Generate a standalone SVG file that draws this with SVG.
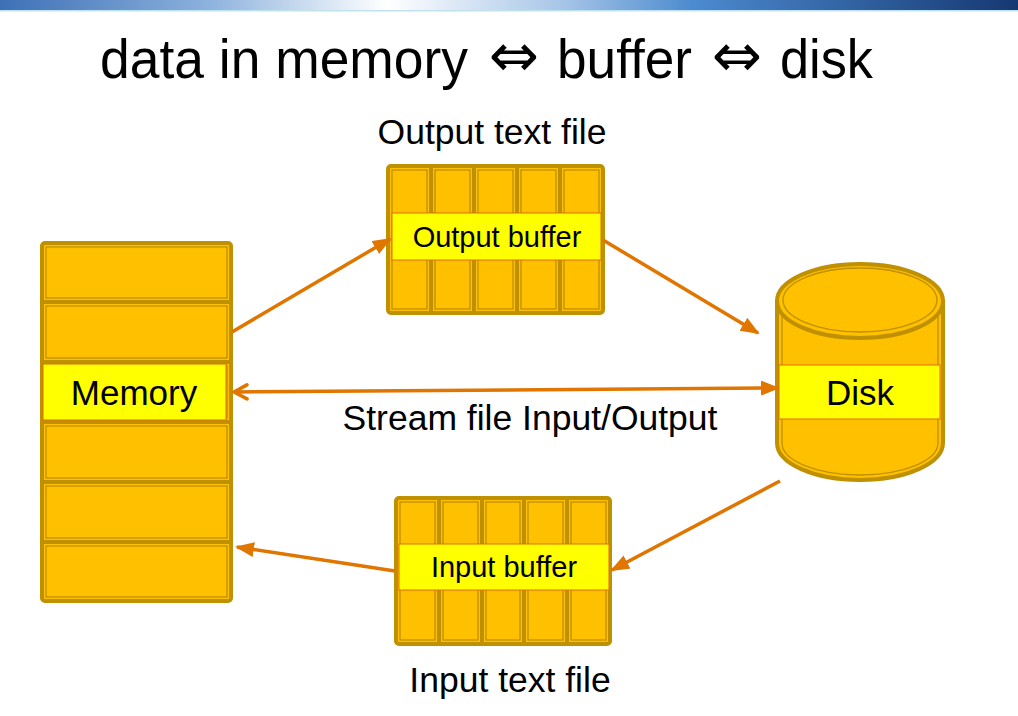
<svg xmlns="http://www.w3.org/2000/svg" width="1018" height="716" viewBox="0 0 1018 716">
<defs>
<linearGradient id="bar" x1="0" y1="0" x2="1" y2="0">
<stop offset="0" stop-color="#3E70B6"/>
<stop offset="0.2" stop-color="#8AB0DC"/>
<stop offset="0.38" stop-color="#FFFFFF"/>
<stop offset="0.55" stop-color="#A9C6E8"/>
<stop offset="0.68" stop-color="#4C8BCF"/>
<stop offset="1" stop-color="#163872"/>
</linearGradient>
<marker id="tri" markerUnits="userSpaceOnUse" markerWidth="20" markerHeight="16" refX="17" refY="7.5" orient="auto">
<path d="M0,0 L19,7.5 L0,15 z" fill="#E07500"/>
</marker>
<marker id="open" markerUnits="userSpaceOnUse" markerWidth="20" markerHeight="20" refX="16" refY="9" orient="auto-start-reverse">
<path d="M3,2 L16,9 L3,16" fill="none" stroke="#E07500" stroke-width="3.5" stroke-linecap="round" stroke-linejoin="round"/>
</marker>
</defs>
<style>
.gold{fill:#FFC000;stroke:#BF9000;stroke-width:4;stroke-linejoin:round}
.sep{stroke:#BF9000;stroke-width:4}
.inner{fill:none;stroke:#BF9000;stroke-width:1.3}
.band{fill:#FFFF00;stroke:#E36C0A;stroke-width:1}
.conn{fill:none;stroke:#E07500;stroke-width:3.5}
text{font-family:"Liberation Sans","DejaVu Sans",Arial,sans-serif;fill:#000}
.ttl{font-size:56px}
.dbl{font-family:"DejaVu Sans",sans-serif;font-size:60px;text-anchor:middle}
</style>
<rect x="0" y="0" width="1018" height="10" fill="url(#bar)"/>
<rect x="0" y="10" width="1018" height="1.5" fill="#BFE3EC"/>
<g id="title">
<text class="ttl" x="100" y="78" textLength="368" lengthAdjust="spacingAndGlyphs">data in memory</text>
<text class="dbl" x="514" y="76">⇔</text>
<text class="ttl" x="557" y="78" textLength="135" lengthAdjust="spacingAndGlyphs">buffer</text>
<text class="dbl" x="737" y="76">⇔</text>
<text class="ttl" x="780" y="78" textLength="93" lengthAdjust="spacingAndGlyphs">disk</text>
</g>

<g id="memory">
<rect class="gold" x="42" y="243" width="189" height="358" rx="3"/>
<line class="sep" x1="42" y1="302" x2="231" y2="302"/>
<line class="sep" x1="42" y1="362" x2="231" y2="362"/>
<line class="sep" x1="42" y1="422" x2="231" y2="422"/>
<line class="sep" x1="42" y1="482" x2="231" y2="482"/>
<line class="sep" x1="42" y1="542" x2="231" y2="542"/>
<rect class="inner" x="46" y="247" width="181" height="51"/>
<rect class="inner" x="46" y="306" width="181" height="52"/>
<rect class="inner" x="46" y="366" width="181" height="52"/>
<rect class="inner" x="46" y="426" width="181" height="52"/>
<rect class="inner" x="46" y="486" width="181" height="52"/>
<rect class="inner" x="46" y="546" width="181" height="51"/>
<rect class="band" x="43" y="364" width="183" height="56"/>
<text x="134" y="405" font-size="35" text-anchor="middle">Memory</text>
</g>

<g id="output-buffer">
<rect class="gold" x="388" y="166" width="215" height="147" rx="3"/>
<line class="sep" x1="431" y1="166" x2="431" y2="313"/>
<line class="sep" x1="474" y1="166" x2="474" y2="313"/>
<line class="sep" x1="517" y1="166" x2="517" y2="313"/>
<line class="sep" x1="560" y1="166" x2="560" y2="313"/>
<rect class="inner" x="392" y="170" width="35" height="139"/>
<rect class="inner" x="435" y="170" width="35" height="139"/>
<rect class="inner" x="478" y="170" width="35" height="139"/>
<rect class="inner" x="521" y="170" width="35" height="139"/>
<rect class="inner" x="564" y="170" width="35" height="139"/>
<rect class="band" x="392" y="213" width="209" height="47"/>
<text x="497" y="247" font-size="29" text-anchor="middle">Output buffer</text>
</g>
<text x="492" y="144" font-size="35.5" text-anchor="middle">Output text file</text>

<g id="disk">
<path class="gold" d="M777,301 L777,443 A83,37 0 0 0 943,443 L943,301 z"/>
<path class="inner" d="M782,301 L782,443 A78,32 0 0 0 938,443 L938,301"/>
<ellipse class="gold" cx="860" cy="301" rx="83" ry="37"/>
<ellipse class="inner" cx="860" cy="300" rx="77" ry="32"/>
<rect class="band" x="779" y="365" width="161" height="54"/>
<text x="860" y="405" font-size="35" text-anchor="middle">Disk</text>
</g>

<g id="input-buffer">
<rect class="gold" x="396" y="498" width="214" height="146" rx="3"/>
<line class="sep" x1="439" y1="498" x2="439" y2="644"/>
<line class="sep" x1="482" y1="498" x2="482" y2="644"/>
<line class="sep" x1="524" y1="498" x2="524" y2="644"/>
<line class="sep" x1="567" y1="498" x2="567" y2="644"/>
<rect class="inner" x="400" y="502" width="35" height="138"/>
<rect class="inner" x="443" y="502" width="35" height="138"/>
<rect class="inner" x="486" y="502" width="34" height="138"/>
<rect class="inner" x="528" y="502" width="35" height="138"/>
<rect class="inner" x="571" y="502" width="35" height="138"/>
<rect class="band" x="399" y="544" width="210" height="46"/>
<text x="504" y="577" font-size="29" text-anchor="middle">Input buffer</text>
</g>
<text x="510" y="692" font-size="35.5" text-anchor="middle">Input text file</text>

<g id="connectors">
<line class="conn" x1="232" y1="332" x2="390" y2="239" marker-end="url(#tri)"/>
<line class="conn" x1="603" y1="240" x2="758" y2="333" marker-end="url(#tri)"/>
<line class="conn" x1="234" y1="392" x2="778" y2="388" marker-start="url(#open)" marker-end="url(#tri)"/>
<line class="conn" x1="780" y1="481" x2="612" y2="570" marker-end="url(#tri)"/>
<line class="conn" x1="395" y1="571" x2="237" y2="547" marker-end="url(#tri)"/>
</g>
<text x="530" y="430" font-size="35.5" text-anchor="middle">Stream file Input/Output</text>
</svg>
